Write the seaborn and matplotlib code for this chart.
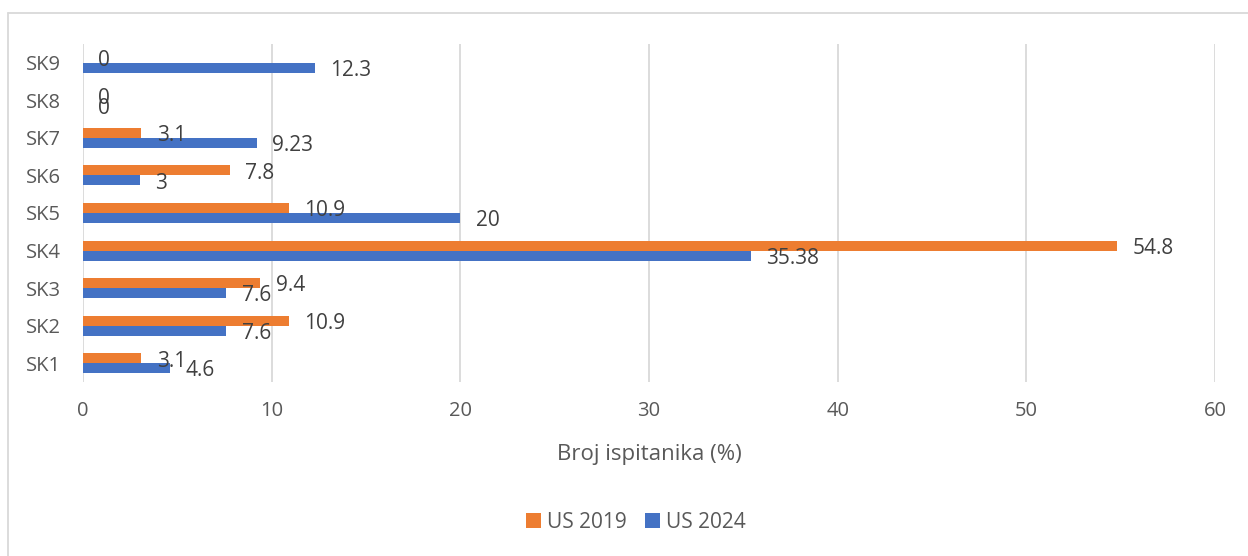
import matplotlib
matplotlib.use("Agg")
import matplotlib.pyplot as plt
import seaborn as sns
import pandas as pd
from matplotlib.patches import Patch
from matplotlib.lines import Line2D

categories = ["SK9", "SK8", "SK7", "SK6", "SK5", "SK4", "SK3", "SK2", "SK1"]
us2019 = [0, 0, 3.1, 7.8, 10.9, 54.8, 9.4, 10.9, 3.1]
us2024 = [12.3, 0, 9.23, 3, 20, 35.38, 7.6, 7.6, 4.6]
labels2019 = ["0", "0", "3.1", "7.8", "10.9", "54.8", "9.4", "10.9", "3.1"]
labels2024 = ["12.3", "0", "9.23", "3", "20", "35.38", "7.6", "7.6", "4.6"]
series = ["US 2019", "US 2024"]
colors = ["#ED7D31", "#4472C4"]
xticks = [0, 10, 20, 30, 40, 50, 60]

df = pd.DataFrame({
    "cat": categories * 2,
    "val": us2019 + us2024,
    "series": [series[0]] * len(categories) + [series[1]] * len(categories),
})

sns.set_theme(style="white")
plt.rcParams["font.family"] = ["Open Sans", "DejaVu Sans"]
txt = "#595959"

fig = plt.figure(figsize=(12.48, 5.56), dpi=100)
ax = fig.add_axes([83 / 1248, 1 - 382 / 556, (1215 - 83) / 1248, (382 - 44) / 556])

sns.barplot(data=df, y="cat", x="val", hue="series", hue_order=series,
            order=categories, palette=colors, orient="h", width=0.53,
            saturation=1, ax=ax, legend=False, edgecolor="none")

ax.set_xlim(0, 60)
ax.set_xticks(xticks)
ax.grid(axis="x", color="#D9D9D9", linewidth=1.3)
ax.grid(axis="y", visible=False)
ax.set_axisbelow(True)
for s in ax.spines.values():
    s.set_visible(False)
ax.tick_params(axis="x", length=0, pad=14, labelsize=14.5, labelcolor=txt)
ax.tick_params(axis="y", length=0, pad=16, labelsize=14.5, labelcolor=txt)
ax.set_ylabel("")
ax.set_xlabel("Broj ispitanika (%)", fontsize=16, color=txt, labelpad=16)

# data labels
for cont, labs in zip(ax.containers, [labels2019, labels2024]):
    for p, lab in zip(cont.patches, labs):
        yc = p.get_y() + p.get_height() / 2
        ax.annotate(lab, xy=(p.get_width(), yc), xytext=(11, -2),
                    textcoords="offset points", ha="left", va="center",
                    fontsize=15, color="#404040")

handles = [Patch(facecolor=c, edgecolor="none") for c in colors]
fig.legend(handles, series, loc="center", bbox_to_anchor=(636 / 1248, 1 - 522 / 556),
           ncol=2, frameon=False, fontsize=15, handlelength=0.7,
           handleheight=0.7, handletextpad=0.3, columnspacing=0.9,
           labelcolor=txt)

# outer chart border
fig.add_artist(Line2D([8 / 1248, 1], [1 - 13 / 556] * 2, color="#D9D9D9", lw=1.3,
                      transform=fig.transFigure))
fig.add_artist(Line2D([8 / 1248] * 2, [0, 1 - 13 / 556], color="#D9D9D9", lw=1.3,
                      transform=fig.transFigure))

fig.savefig("out.png", dpi=100, facecolor="white")
